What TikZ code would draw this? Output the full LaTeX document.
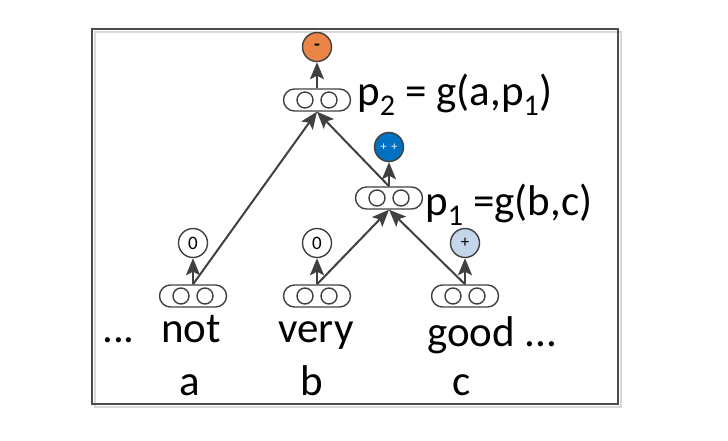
\documentclass[tikz,border=0pt]{standalone}
\usepackage{fontspec}
\setmainfont{Carlito}
\usepackage{tikz}
\usetikzlibrary{arrows.meta, positioning}
\definecolor{lineGray}{RGB}{64,64,64}
\definecolor{negOrange}{RGB}{234,133,71}
\definecolor{posBlue}{RGB}{0,112,192}
\definecolor{lightBlue}{RGB}{197,214,234}
\tikzset{arrow/.style={draw=lineGray, line width=2pt, -{Stealth[length=17pt, width=14pt, inset=3.5pt]}}}
\tikzstyle{cellNode} = [
                rectangle,
                rounded corners=11pt,
                minimum width=67pt,
                minimum height=22pt,
                draw=lineGray,
                line width=1.4pt,
                inner sep=0pt
            ]
\tikzstyle{circleNode} = [
                circle,
                minimum size = 29pt,
                text centered,
                draw=lineGray,
                line width=1.4pt,
                inner sep=0pt,
                font=\fontsize{19}{19}\selectfont
            ]
\tikzstyle{word} = [inner sep=0pt, anchor=base, font=\fontsize{43}{43}\selectfont]

\begin{document}
\begin{tikzpicture}[x=1pt, y=-1pt, node distance = 53pt]
                            \useasboundingbox (0,0) rectangle (728,440);
                            % frame
                            \draw [gray!30, line width=2pt] (95,32) rectangle (621,407);
                            \draw [black!70, line width=1.5pt] (92,29) rectangle (618,404);
                            % word cells
                            \node (a) [cellNode] at (193,296) {};
                            \node (b) [cellNode] at (317,296) {};
                            \node (c) [cellNode] at (465,296) {};
                            \node (p1) [cellNode] at (389,198) {};
                            \node (p2) [cellNode] at (317,100) {};
                            \foreach \n in {a,b,c,p1,p2} {
                                \draw [lineGray, line width=1.4pt] ([xshift=-12pt]\n.center) circle (8pt);
                                \draw [lineGray, line width=1.4pt] ([xshift=12pt]\n.center) circle (8pt);
                            }
                            % sentiment labels
                            \node (sa) [circleNode, above of=a] {0};
                            \node (sb) [circleNode, above of=b] {0};
                            \node (sc) [circleNode, above of=c, fill=lightBlue, font=\fontsize{17}{17}\selectfont] {+};
                            \node (sp1) [circleNode, above of=p1, yshift=-2pt, fill=posBlue, text=white, font=\fontsize{12}{12}\selectfont] {+\hspace{5pt}+};
                            \node (sp2) [circleNode, above of=p2, fill=negOrange, font=\fontsize{19}{19}\selectfont\bfseries] {-};
                            % arrows
                            \draw [arrow] (a.north) -- (sa);
                            \draw [arrow] (b.north) -- (sb);
                            \draw [arrow] (c.north) -- (sc);
                            \draw [arrow] (p1.north) -- (sp1);
                            \draw [arrow] (p2.north) -- (sp2);
                            \draw [arrow] (b.north) -- (p1.south);
                            \draw [arrow] (c.north) -- (p1.south);
                            \draw [arrow] (a.north) -- (p2.south);
                            \draw [arrow] (p1.north) -- (p2.south);
                            % texts
                            \node (f2) [word, anchor=base west] at (357,105) {p\textsubscript{2} = g(a,p\textsubscript{1})};
                            \node (f1) [word, anchor=base west] at (425,215) {p\textsubscript{1} =g(b,c)};
                            \node (dots) [word, anchor=base west] at (102,342) {...};
                            \node (wNot) [word] at (191,342) {not};
                            \node (wVery) [word] at (316,342) {very};
                            \node (wGood) [word, anchor=base west] at (427,346) {good ...};
                            \node (lA) [word] at (190,395) {a};
                            \node (lB) [word] at (312,395) {b};
                            \node (lC) [word] at (462,395) {c};
                        \end{tikzpicture}
\end{document}
